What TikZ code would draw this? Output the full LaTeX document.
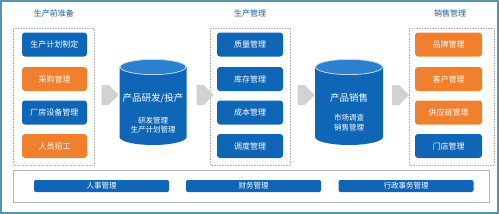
\documentclass[tikz,border=0pt]{standalone}
\usepackage{fontspec}
\setmainfont{Noto Sans CJK SC}
\usetikzlibrary{shapes.arrows}
\definecolor{cblue}{HTML}{0F66B6}
\definecolor{corange}{HTML}{F0802E}
\definecolor{ctitle}{HTML}{1F5E9A}
\definecolor{cframe}{HTML}{5A93AC}
\definecolor{cbottom}{HTML}{A9C0CC}
\definecolor{cdash}{HTML}{B8B8B8}
\definecolor{carrow}{HTML}{D2D2D2}
\definecolor{ctop}{HTML}{2B80CF}
\begin{document}
\begin{tikzpicture}[x=1pt,y=-1pt,
  boxb/.style={fill=cblue,rounded corners=3pt,minimum width=65pt,minimum height=24pt,text=white,font=\fontsize{8}{8}\selectfont,inner sep=0pt},
  boxo/.style={boxb,fill=corange},
  grp/.style={draw=cdash,densely dotted,line width=0.6pt},
  gtitle/.style={text=ctitle,font=\fontsize{8}{8}\selectfont,inner sep=0pt},
  barb/.style={fill=cblue,rounded corners=2pt,minimum width=135pt,minimum height=12pt,text=white,font=\fontsize{7.5}{7.5}\selectfont,inner sep=0pt},
  garrow/.style={single arrow,fill=carrow,minimum width=20pt,single arrow head extend=0pt,minimum height=17pt,inner sep=0pt,single arrow tip angle=90,shape border uses incircle=false},
  ctext/.style={text=white,inner sep=0pt}]
\useasboundingbox (0,0) rectangle (499,214);
\fill[white] (0,0) rectangle (499,214);
\draw[cframe,line width=1.2pt] (1,1) rectangle (498,213);

% groups
\draw[grp] (13,28) rectangle (94,165);
\draw[grp] (210,28) rectangle (290,165);
\draw[grp] (409,28) rectangle (494,165);
\node[gtitle] (t1) at (54,13) {生产前准备};
\node[gtitle] (t2) at (250,13) {生产管理};
\node[gtitle] (t3) at (450,13) {销售管理};

% group 1 boxes
\node[boxb] (a1) at (54.5,44.5) {生产计划制定};
\node[boxo] (a2) at (54.5,79) {采购管理};
\node[boxb] (a3) at (54.5,112.5) {厂房设备管理};
\node[boxo] (a4) at (54.5,146) {人员招工};

% group 2 boxes
\node[boxb,minimum width=66pt] (b1) at (250,44.5) {质量管理};
\node[boxb,minimum width=66pt] (b2) at (250,79) {库存管理};
\node[boxb,minimum width=66pt] (b3) at (250,112.5) {成本管理};
\node[boxb,minimum width=66pt] (b4) at (250,146) {调度管理};

% group 3 boxes
\node[boxo,minimum width=67pt] (c1) at (448.5,44.5) {品牌管理};
\node[boxo,minimum width=67pt] (c2) at (448.5,79) {客户管理};
\node[boxo,minimum width=67pt] (c3) at (448.5,112.5) {供应链管理};
\node[boxb,minimum width=67pt] (c4) at (448.5,146) {门店管理};

% cylinders
\foreach \cx/\rx in {153/33.5, 349/34}{
  \fill[cblue] (\cx-\rx,67) -- (\cx-\rx,137) arc[start angle=180,end angle=360,x radius=\rx,y radius=-8] -- (\cx+\rx,67) -- cycle;
  \fill[ctop,draw=white!75!cblue,line width=0.8pt] (\cx,67) ellipse[x radius=\rx-0.6,y radius=7.6];
}
\node[ctext,font=\fontsize{9.5}{10}\selectfont] (p1) at (153,98) {产品研发/投产};
\node[ctext,font=\fontsize{7.5}{9.5}\selectfont,align=center] (p1s) at (153,125) {研发管理\\生产计划管理};
\node[ctext,font=\fontsize{9.5}{10}\selectfont] (p2) at (349,98) {产品销售};
\node[ctext,font=\fontsize{7.5}{9.5}\selectfont,align=center] (p2s) at (349,122.5) {市场调查\\销售管理};

% arrows
\node[garrow] (r1) at (105,95) {};
\node[garrow] (r2) at (200,95) {};
\node[garrow] (r3) at (301,95) {};
\node[garrow] (r4) at (395.5,95) {};

% bottom
\draw[cbottom,line width=0.8pt] (13,170) rectangle (489,202);
\node[barb] (d1) at (101.5,186) {人事管理};
\node[barb] (d2) at (253.5,186) {财务管理};
\node[barb] (d3) at (406,186) {行政事务管理};
\end{tikzpicture}
\end{document}
